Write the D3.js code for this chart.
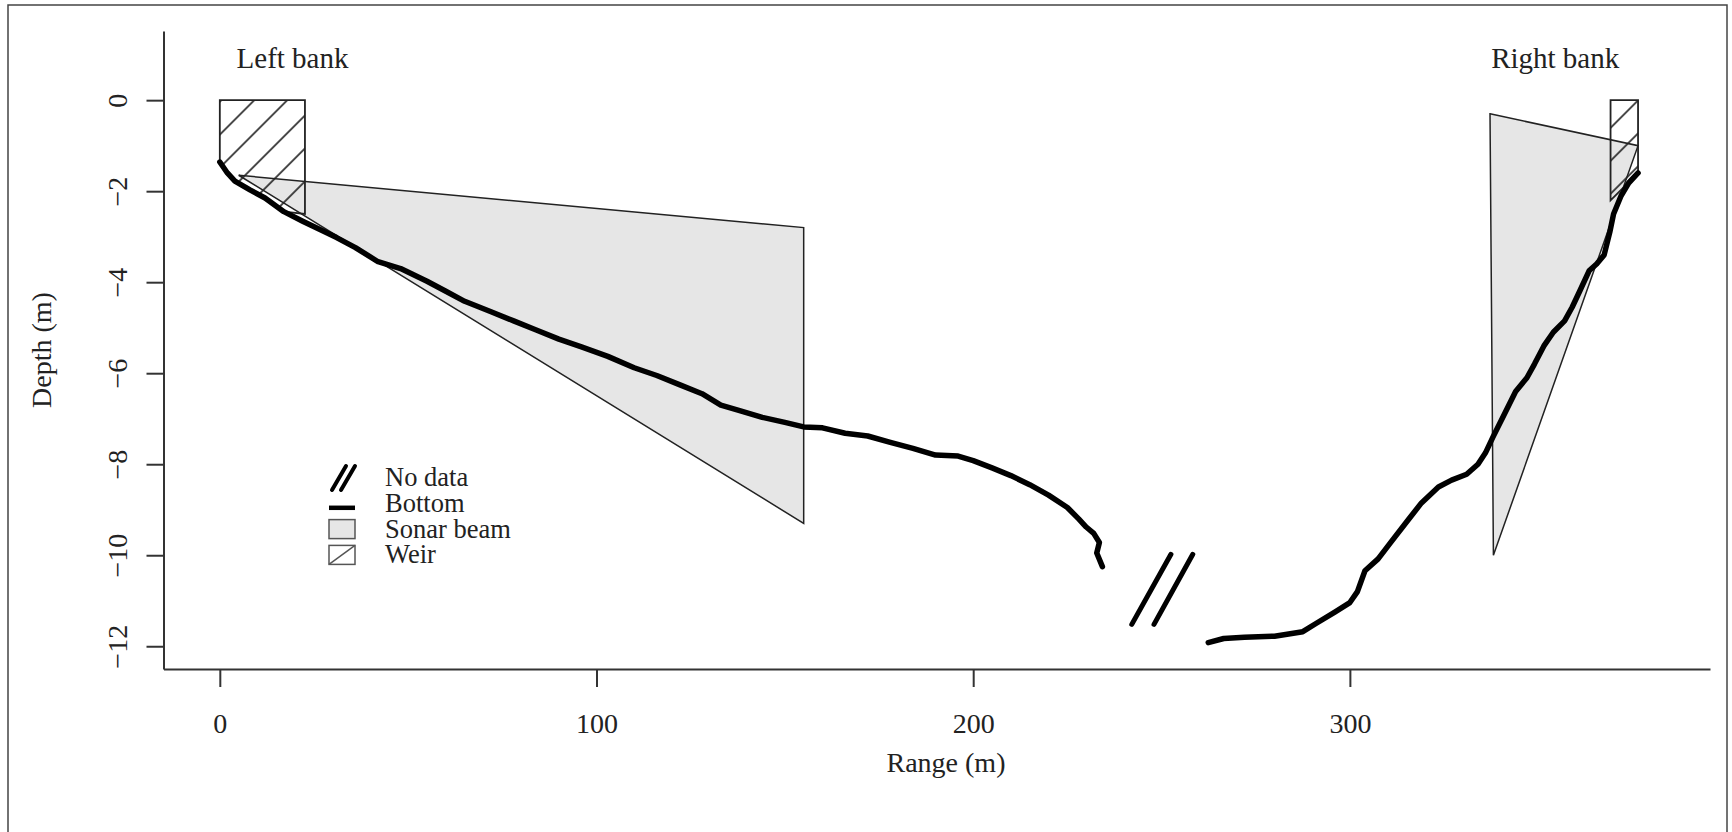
<!DOCTYPE html>
<html>
<head>
<meta charset="utf-8">
<script src="https://cdn.jsdelivr.net/npm/d3@7"></script>
<style>
body { margin: 0; background: #fff; }
svg text { font-family: "Liberation Serif", "Times New Roman", serif; fill: #222; }
</style>
</head>
<body>
<div id="chart"></div>
<script>
// tick values
var xTicks = [0, 100, 200, 300];
var yTicks = [0, -2, -4, -6, -8, -10, -12];

// river bottom, [range m, depth m]
var bottomLeft = [
    [0, -1.36], [2, -1.6], [4, -1.78], [8, -1.97], [12, -2.15], [17, -2.45],
    [22, -2.66], [27, -2.86], [31, -3.02], [36, -3.24], [42, -3.55], [48, -3.7],
    [55, -3.98], [60, -4.2], [65, -4.42], [72, -4.65], [78, -4.85], [84, -5.05],
    [90, -5.25], [96, -5.42], [103, -5.63], [110, -5.88], [116, -6.05], [122, -6.25],
    [128, -6.45], [133, -6.7], [138, -6.82], [144, -6.97], [150, -7.08], [155, -7.18],
    [160, -7.2], [166, -7.32], [172, -7.38], [178, -7.52], [184, -7.65], [190, -7.8],
    [196, -7.82], [200, -7.92], [205, -8.08], [210, -8.25], [215, -8.45], [220, -8.68],
    [225, -8.95], [228, -9.2], [230, -9.38], [232, -9.52], [233.5, -9.72],
    [232.8, -9.95], [234.3, -10.25]
];
var bottomRight = [
    [262.4, -11.92], [266.5, -11.83], [272, -11.8], [280, -11.78], [287.5, -11.68],
    [291, -11.5], [296, -11.25], [300, -11.04], [302, -10.8], [304, -10.34],
    [307.5, -10.08], [311, -9.7], [315.5, -9.22], [319, -8.85], [323.5, -8.5],
    [327, -8.35], [331, -8.22], [334, -8.0], [336, -7.75], [338, -7.4], [341, -6.9],
    [344, -6.4], [347, -6.1], [349, -5.8], [351.5, -5.4], [354, -5.1], [357, -4.85],
    [359, -4.55], [361, -4.2], [363.5, -3.75], [365.5, -3.6], [367.5, -3.4],
    [369, -2.9], [370, -2.5], [372, -2.1], [374, -1.82], [376.5, -1.6]
];

// gap marks (no data)
var noData = [
    [[242.1, -11.52], [252.5, -9.98]],
    [[248, -11.52], [258.3, -9.98]]
];

// sonar beams
var beamLeft = [[5, -1.65], [155, -2.8], [155, -9.3]];
var beamRight = [[337.2, -0.3], [376.5, -1.0], [338.1, -10.0]];

// weirs
var weirLeft = [[0, 0], [22.6, 0], [22.6, -2.5], [17, -2.45], [12, -2.15], [8, -1.97], [4, -1.78], [0, -1.36]];
var weirRight = [[369.2, 0], [376.5, 0], [376.5, -1.6], [369.2, -2.2]];

var legendItems = ["No data", "Bottom", "Sonar beam", "Weir"];

var W = 1732, H = 832;

var svg = d3.select("#chart").append("svg")
    .attr("width", W)
    .attr("height", H);

// outer frame
svg.append("rect")
    .attr("x", 8).attr("y", 5)
    .attr("width", W - 8 - 5).attr("height", H + 20)
    .attr("fill", "none")
    .attr("stroke", "#444")
    .attr("stroke-width", 1.5);

var x = d3.scaleLinear().domain([-14.95, 395.6]).range([163.5, 1710]);
var y = d3.scaleLinear().domain([-12.5, 1.52]).range([669, 31]);

// hatch for the weirs
var defs = svg.append("defs");
var hatch = defs.append("pattern")
    .attr("id", "hatch")
    .attr("patternUnits", "userSpaceOnUse")
    .attr("width", 23.3).attr("height", 23.3)
    .attr("x", 6)
    .attr("patternTransform", "rotate(45)");
hatch.append("line")
    .attr("x1", 11.65).attr("y1", -1).attr("x2", 11.65).attr("y2", 24.3)
    .attr("stroke", "#222").attr("stroke-width", 1.6);

var poly = function (pts) {
    return "M" + pts.map(function (p) { return x(p[0]) + "," + y(p[1]); }).join("L") + "Z";
};

// sonar beams
svg.selectAll(".beam")
    .data([beamLeft, beamRight])
    .enter().append("path")
    .attr("class", "beam")
    .attr("d", poly)
    .attr("fill", "#e6e6e6")
    .attr("stroke", "#222")
    .attr("stroke-width", 1.5)
    .attr("stroke-linejoin", "miter");

// weirs
svg.selectAll(".weir")
    .data([weirLeft, weirRight])
    .enter().append("path")
    .attr("class", "weir")
    .attr("d", poly)
    .attr("fill", "url(#hatch)")
    .attr("stroke", "#222")
    .attr("stroke-width", 1.8);

// bottom line
var line = d3.line()
    .x(function (d) { return x(d[0]); })
    .y(function (d) { return y(d[1]); });

svg.selectAll(".bottom")
    .data([bottomLeft, bottomRight])
    .enter().append("path")
    .attr("class", "bottom")
    .attr("d", line)
    .attr("fill", "none")
    .attr("stroke", "#000")
    .attr("stroke-width", 5.5)
    .attr("stroke-linejoin", "round")
    .attr("stroke-linecap", "round");

svg.selectAll(".gap")
    .data(noData)
    .enter().append("path")
    .attr("class", "gap")
    .attr("d", line)
    .attr("stroke", "#000")
    .attr("stroke-width", 5)
    .attr("stroke-linecap", "round");

// axes
var yAxis = svg.append("g")
    .attr("transform", "translate(" + x.range()[0] + ",0)")
    .style("color", "#333")
    .call(d3.axisLeft(y).tickValues(yTicks).tickSize(17).tickSizeOuter(0));
yAxis.selectAll("path, line").attr("stroke-width", 2);
yAxis.selectAll(".tick text")
    .attr("x", null).attr("dy", null)
    .attr("transform", "translate(-46,0) rotate(-90)")
    .attr("text-anchor", "middle")
    .attr("dominant-baseline", "central")
    .style("font-size", "28px");

var xAxis = svg.append("g")
    .attr("transform", "translate(0," + y.range()[0] + ")")
    .style("color", "#333")
    .call(d3.axisBottom(x).tickValues(xTicks).tickSize(18).tickSizeOuter(0));
xAxis.selectAll("path, line").attr("stroke-width", 2);
xAxis.selectAll(".tick text")
    .attr("y", 54).attr("dy", null)
    .attr("dominant-baseline", "central")
    .style("font-size", "28px");

// axis titles
svg.append("text")
    .attr("transform", "translate(41,350) rotate(-90)")
    .attr("text-anchor", "middle")
    .attr("dominant-baseline", "central")
    .style("font-size", "28px")
    .text("Depth (m)");

svg.append("text")
    .attr("x", 946).attr("y", 762)
    .attr("text-anchor", "middle")
    .attr("dominant-baseline", "central")
    .style("font-size", "28px")
    .text("Range (m)");

// bank labels
svg.append("text")
    .attr("x", x(19.3)).attr("y", y(0.93))
    .attr("text-anchor", "middle")
    .attr("dominant-baseline", "central")
    .style("font-size", "29px")
    .text("Left bank");

svg.append("text")
    .attr("x", x(354.5)).attr("y", y(0.93))
    .attr("text-anchor", "middle")
    .attr("dominant-baseline", "central")
    .style("font-size", "29px")
    .text("Right bank");

// legend
var legend = svg.append("g").attr("transform", "translate(328,477)");
var rows = legend.selectAll(".row")
    .data(legendItems)
    .enter().append("g")
    .attr("transform", function (d, i) { return "translate(0," + (i * 25.8) + ")"; });

rows.append("text")
    .attr("x", 57)
    .attr("dominant-baseline", "central")
    .style("font-size", "26.5px")
    .text(function (d) { return d; });

rows.each(function (d) {
    var g = d3.select(this);
    if (d === "No data") {
        [0, 9].forEach(function (o) {
            g.append("line")
                .attr("x1", 4 + o).attr("y1", 13).attr("x2", 18 + o).attr("y2", -11)
                .attr("stroke", "#000").attr("stroke-width", 4).attr("stroke-linecap", "round");
        });
    } else if (d === "Bottom") {
        g.append("line")
            .attr("x1", 1).attr("y1", 5).attr("x2", 27).attr("y2", 5)
            .attr("stroke", "#000").attr("stroke-width", 4.5);
    } else {
        g.append("rect")
            .attr("x", 1).attr("y", -9).attr("width", 26).attr("height", 19)
            .attr("fill", d === "Sonar beam" ? "#e6e6e6" : "none")
            .attr("stroke", "#555").attr("stroke-width", 1.5);
        if (d === "Weir") {
            g.append("line")
                .attr("x1", 1).attr("y1", 10).attr("x2", 27).attr("y2", -9)
                .attr("stroke", "#555").attr("stroke-width", 1.5);
        }
    }
});
</script>
</body>
</html>
